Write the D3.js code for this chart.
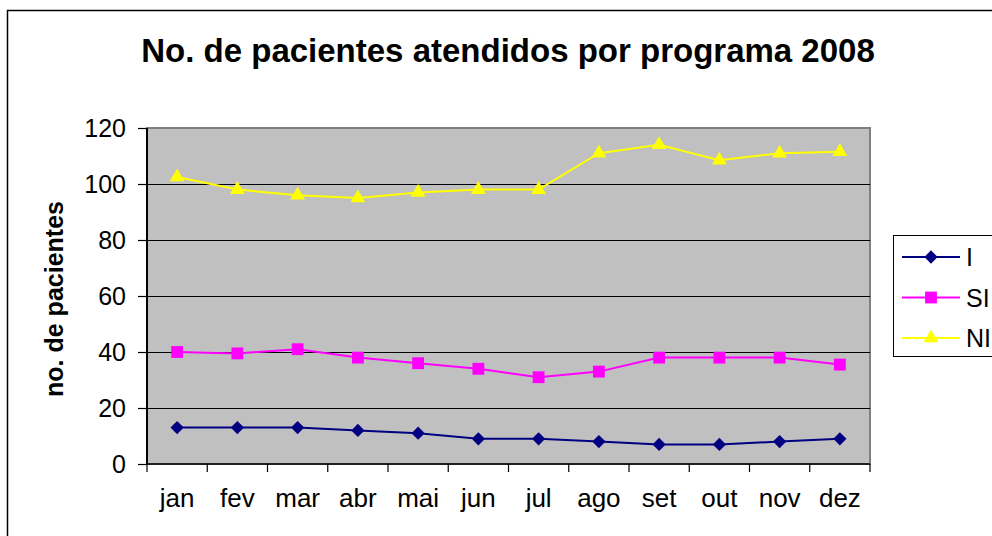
<!DOCTYPE html>
<html>
<head>
<meta charset="utf-8">
<script src="https://cdn.jsdelivr.net/npm/d3@7"></script>
<style>
  html, body { margin: 0; padding: 0; background: #fff; overflow: hidden; }
  svg { display: block; font-family: "Liberation Sans", Arial, sans-serif; }
</style>
</head>
<body>
<div id="chart"></div>
<script>
// dados
var months = ['jan', 'fev', 'mar', 'abr', 'mai', 'jun', 'jul', 'ago', 'set', 'out', 'nov', 'dez'];
var seriesNames = ['I', 'SI', 'NI'];
var valuesI = [13, 13, 13, 12, 11, 9, 9, 8, 7, 7, 8, 9];
var valuesSI = [40, 39.5, 41, 38, 36, 34, 31, 33, 38, 38, 38, 35.5];
var valuesNI = [102.5, 98, 96, 95, 97, 98, 98, 111, 114, 108.5, 111, 111.5];
var yTicks = [0, 20, 40, 60, 80, 100, 120];

var width = 992, height = 536;
var plot = { left: 147, right: 870, top: 128, bottom: 464 };
var fontFamily = '"Liberation Sans", Arial, sans-serif';

var series = [
  { name: seriesNames[0], values: valuesI, color: '#000080', symbol: d3.symbolSquare, size: 88, rotate: 45 },
  { name: seriesNames[1], values: valuesSI, color: '#FF00FF', symbol: d3.symbolSquare, size: 140, rotate: 0 },
  { name: seriesNames[2], values: valuesNI, color: '#FFFF00', symbol: d3.symbolTriangle, size: 95, rotate: 0 }
];

var svg = d3.select('#chart').append('svg')
  .attr('width', width)
  .attr('height', height);

// moldura do gráfico
svg.append('rect')
  .attr('x', 7.5).attr('y', 10.5)
  .attr('width', 1000).attr('height', 600)
  .attr('fill', '#fff')
  .attr('stroke', '#000')
  .attr('stroke-width', 1.5);

svg.append('text')
  .attr('x', 508).attr('y', 62)
  .attr('text-anchor', 'middle')
  .attr('font-size', '33px')
  .attr('font-weight', 'bold')
  .text('No. de pacientes atendidos por programa 2008');

var x = d3.scaleBand().domain(months).range([plot.left, plot.right]);
var y = d3.scaleLinear().domain([0, 120]).range([plot.bottom, plot.top]);

// área de plotagem
svg.append('rect')
  .attr('x', plot.left).attr('y', plot.top)
  .attr('width', plot.right - plot.left).attr('height', plot.bottom - plot.top)
  .attr('fill', '#C0C0C0')
  .attr('stroke', '#808080')
  .attr('stroke-width', 2);

svg.append('g')
  .selectAll('line')
  .data(yTicks.filter(function (t) { return t > 0 && t < 120; }))
  .join('line')
    .attr('x1', plot.left).attr('x2', plot.right)
    .attr('y1', function (d) { return Math.round(y(d)) + 0.5; })
    .attr('y2', function (d) { return Math.round(y(d)) + 0.5; })
    .attr('stroke', '#000')
    .attr('stroke-width', 1.2);

// eixo y
var yAxis = svg.append('g')
  .attr('transform', 'translate(' + plot.left + ',0)')
  .call(d3.axisLeft(y).tickValues(yTicks).tickSize(9).tickPadding(12));
yAxis.selectAll('text').attr('font-size', '25px').attr('fill', '#000').attr('font-family', fontFamily);
yAxis.selectAll('line').attr('stroke', '#000').attr('stroke-width', 1.2);
yAxis.select('.domain').attr('stroke', '#000').attr('stroke-width', 2).attr('d', 'M0,' + plot.top + 'V' + plot.bottom);

// eixo x
var xAxis = svg.append('g')
  .attr('transform', 'translate(0,' + plot.bottom + ')')
  .call(d3.axisBottom(x).tickSize(0).tickPadding(25));
xAxis.selectAll('text').attr('font-size', '26px').attr('fill', '#000').attr('font-family', fontFamily);
xAxis.select('.domain').attr('stroke', '#000').attr('stroke-width', 1.5).attr('d', 'M' + plot.left + ',0H' + plot.right);
xAxis.append('g')
  .selectAll('line')
  .data(months.map(function (m) { return x(m); }).concat([plot.right]))
  .join('line')
    .attr('x1', function (d) { return d; }).attr('x2', function (d) { return d; })
    .attr('y1', 0).attr('y2', 8)
    .attr('stroke', '#000')
    .attr('stroke-width', 1.2);

svg.append('text')
  .attr('transform', 'translate(63,299) rotate(-90)')
  .attr('text-anchor', 'middle')
  .attr('font-size', '25px')
  .attr('font-weight', 'bold')
  .text('no. de pacientes');

// linhas e marcadores
var line = d3.line()
  .x(function (d, i) { return x(months[i]) + x.bandwidth() / 2; })
  .y(function (d) { return y(d); });

series.forEach(function (s) {
  var g = svg.append('g');
  g.append('path')
    .datum(s.values)
    .attr('d', line)
    .attr('fill', 'none')
    .attr('stroke', s.color)
    .attr('stroke-width', 2);
  g.selectAll('path.mark')
    .data(s.values)
    .join('path')
      .attr('class', 'mark')
      .attr('d', d3.symbol().type(s.symbol).size(s.size))
      .attr('transform', function (d, i) {
        return 'translate(' + (x(months[i]) + x.bandwidth() / 2) + ',' + y(d) + ') rotate(' + s.rotate + ')';
      })
      .attr('fill', s.color);
});

// legenda
var legend = svg.append('g').attr('transform', 'translate(893,235)');
legend.append('rect')
  .attr('x', 0.5).attr('y', 0.5)
  .attr('width', 200).attr('height', 121)
  .attr('fill', '#fff')
  .attr('stroke', '#000')
  .attr('stroke-width', 1);

var item = legend.selectAll('g.item')
  .data(series)
  .join('g')
    .attr('class', 'item')
    .attr('transform', function (d, i) { return 'translate(0,' + (22 + i * 40.5) + ')'; });
item.append('line')
  .attr('x1', 9).attr('x2', 67)
  .attr('stroke', function (d) { return d.color; })
  .attr('stroke-width', 2);
item.append('path')
  .attr('d', function (d) { return d3.symbol().type(d.symbol).size(d.size)(); })
  .attr('transform', function (d) { return 'translate(38,0) rotate(' + d.rotate + ')'; })
  .attr('fill', function (d) { return d.color; });
item.append('text')
  .attr('x', 73).attr('y', 9)
  .attr('font-size', '25px')
  .text(function (d) { return d.name; });
</script>
</body>
</html>
